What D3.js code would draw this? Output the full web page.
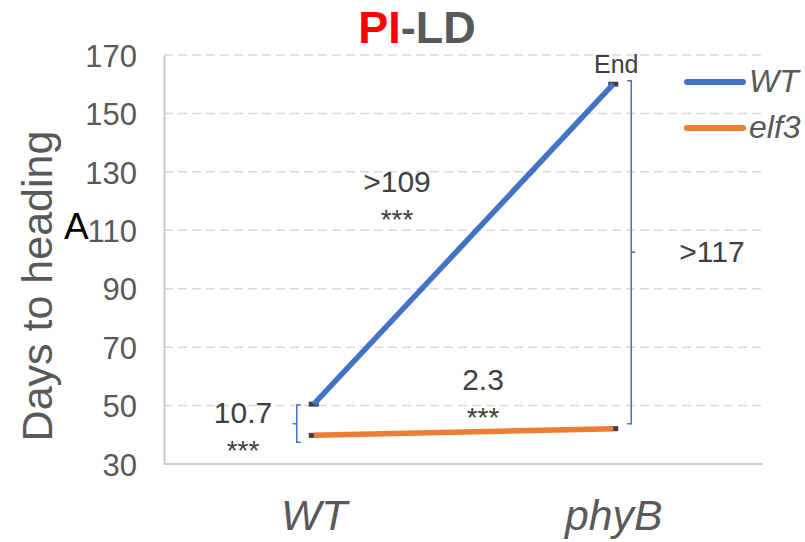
<!DOCTYPE html>
<html>
<head>
<meta charset="utf-8">
<script src="https://cdn.jsdelivr.net/npm/d3@7/dist/d3.min.js"></script>
<style>
  html, body { margin: 0; padding: 0; background: #fff; }
  svg { display: block; font-family: Arial, "Liberation Sans", sans-serif; }
</style>
</head>
<body>
<svg id="chart" width="805" height="542"></svg>
<script>
// Genotype categories on the x axis
const categories = ["WT", "phyB"];
// Days to heading for each background line
const seriesNames = ["WT", "elf3"];
const wtValues = [50.5, 160];
const elf3Values = [39.8, 42.1];
// Y axis ticks
const yTicks = [30, 50, 70, 90, 110, 130, 150, 170];
// Difference annotations
const diffLabels = ["10.7", "2.3", ">109", ">117"];

const colors = { WT: "#4472C4", elf3: "#ED7D31" };
const textGray = "#595959";
const darkText = "#404040";

const svg = d3.select("#chart");
const plot = { left: 164, right: 763, top: 55, bottom: 464 };

const x = d3.scalePoint().domain(categories).range([plot.left, plot.right]).padding(0.5);
const y = d3.scaleLinear().domain([30, 170]).range([plot.bottom, plot.top]);

// Horizontal dashed gridlines
svg.append("g").selectAll("line")
  .data(yTicks.filter(t => t > 30))
  .join("line")
  .attr("x1", plot.left).attr("x2", plot.right)
  .attr("y1", d => y(d)).attr("y2", d => y(d))
  .attr("stroke", "#D9D9D9").attr("stroke-width", 1.5)
  .attr("stroke-dasharray", "9,5");

// Y axis
const yAxis = d3.axisLeft(y).tickValues(yTicks).tickSize(0).tickPadding(27);
const gy = svg.append("g").attr("transform", `translate(${plot.left},0)`).call(yAxis);
gy.select(".domain").attr("stroke", "#C8C8C8").attr("stroke-width", 2);
gy.selectAll("text").attr("fill", textGray).attr("font-size", 31)
  .attr("font-family", "Arial, 'Liberation Sans', sans-serif").attr("dy", "0.36em");

// X axis
const xAxis = d3.axisBottom(x).tickSize(0).tickPadding(0);
const gx = svg.append("g").attr("transform", `translate(0,${plot.bottom})`).call(xAxis);
gx.select(".domain").attr("d", `M${plot.left},0H${plot.right}`)
  .attr("stroke", "#D0D0D0").attr("stroke-width", 2);
gx.selectAll("text").attr("fill", textGray).attr("font-size", 42.7)
  .attr("font-style", "italic").attr("font-family", "Arial, 'Liberation Sans', sans-serif")
  .attr("y", 66).attr("dy", 0);

// Axis title
svg.append("text")
  .attr("transform", `translate(52,286) rotate(-90)`)
  .attr("text-anchor", "middle")
  .attr("font-size", 43).attr("fill", textGray)
  .text("Days to heading");

// Panel letter
svg.append("text").attr("x", 64).attr("y", 239)
  .attr("font-size", 37).attr("fill", "#000").text("A");

// Title
const title = svg.append("text").attr("x", 417).attr("y", 43)
  .attr("text-anchor", "middle").attr("font-size", 45).attr("font-weight", "bold");
title.append("tspan").attr("fill", "#FF0000").text("PI");
title.append("tspan").attr("fill", textGray).text("-LD");

// Series
const series = [
  { name: seriesNames[0], values: wtValues },
  { name: seriesNames[1], values: elf3Values }
];

// Small dark caps at each point
series.forEach(s => {
  svg.append("g").selectAll("rect")
    .data(s.values)
    .join("rect")
    .attr("x", (d, i) => x(categories[i]) - 5)
    .attr("y", d => y(d) - 2.5)
    .attr("width", 10).attr("height", 5)
    .attr("fill", "#404040");
});

const line = d3.line().x((d, i) => x(categories[i])).y(d => y(d));
series.forEach(s => {
  svg.append("path")
    .datum(s.values)
    .attr("d", line)
    .attr("fill", "none")
    .attr("stroke", colors[s.name])
    .attr("stroke-width", 5.5);
});

// Legend
const legend = svg.append("g");
series.forEach((s, i) => {
  const ly = 82 + i * 46;
  legend.append("line")
    .attr("x1", 687).attr("x2", 743).attr("y1", ly).attr("y2", ly)
    .attr("stroke", colors[s.name]).attr("stroke-width", 6).attr("stroke-linecap", "round");
  legend.append("text")
    .attr("x", 749).attr("y", ly + 10)
    .attr("font-size", 32).attr("font-style", "italic").attr("fill", textGray)
    .text(s.name);
});

// "End" marker label
svg.append("text")
  .attr("x", x("phyB") + 3).attr("y", y(wtValues[1]) - 11)
  .attr("text-anchor", "middle").attr("font-size", 25).attr("fill", darkText)
  .text("End");

// Braces
const braceColor = "#4472C4";
function brace(xv, y0, y1, dir) {
  // dir: +1 hooks to the right with notch to the left; -1 the opposite
  const hook = 4 * dir;
  const mid = (y0 + y1) / 2;
  svg.append("path")
    .attr("d", `M${xv + hook},${y0}H${xv}V${y1}H${xv + hook}M${xv},${mid}H${xv - hook}`)
    .attr("fill", "none").attr("stroke", braceColor).attr("stroke-width", 1.5);
}
brace(x("WT") - 17, y(wtValues[0]) + 1, y(elf3Values[0]) + 7, 1);
brace(x("phyB") + 18, y(wtValues[1]) - 3.5, y(elf3Values[1]) - 5, -1);

// Difference labels with significance stars
function diff(label, cx, baseline, stars) {
  svg.append("text").attr("x", cx).attr("y", baseline)
    .attr("text-anchor", "middle").attr("font-size", 30).attr("fill", darkText).text(label);
  if (stars) {
    svg.append("text").attr("x", cx).attr("y", baseline + 37)
      .attr("text-anchor", "middle").attr("font-size", 28).attr("fill", darkText).text("***");
  }
}
diff(diffLabels[0], 243, 423, true);
diff(diffLabels[1], 483, 390, true);
diff(diffLabels[2], 397, 192, true);
diff(diffLabels[3], 712, 262, false);
</script>
</body>
</html>
